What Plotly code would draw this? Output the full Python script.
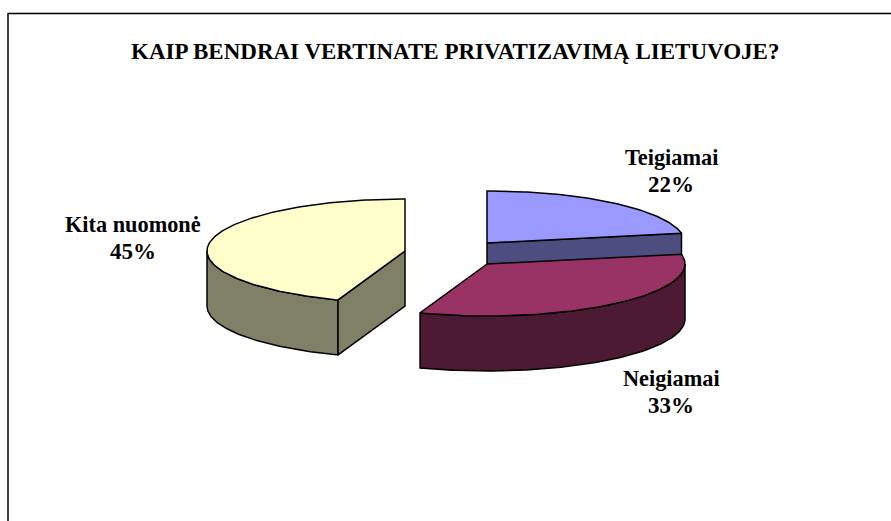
import numpy as np
import plotly.graph_objects as go

categories = ["Teigiamai", "Neigiamai", "Kita nuomonė"]
values = [22, 33.49, 44.51]
title_text = "KAIP BENDRAI VERTINATE PRIVATIZAVIMĄ LIETUVOJE?"
top_colors = ["#9999FF", "#993366", "#FFFFCC"]
side_colors = ["#4D4D80", "#4D1A33", "#808066"]

# Pie projection (pixels of the 891x521 canvas)
RX, RY, DEPTH = 198, 52, 55
CENTERS = [(487, 243), (487, 264), (405, 251)]
LABEL_POS = [(671, 157, 184), (671, 378, 405), (133, 224, 251)]
FONT = "Liberation Serif"

edges = np.cumsum([0] + values) / sum(values) * 2 * np.pi


def pt(c, th, drop=0):
    th = np.asarray(th)
    return c[0] + RX * np.sin(th), c[1] - RY * np.cos(th) + drop


def arc(a, b):
    n = max(2, int(abs(b - a) * 60))
    return np.linspace(a, b, n)


fig = go.Figure()


def poly(xs, ys, color):
    fig.add_trace(go.Scatter(
        x=list(xs) + [xs[0]], y=list(ys) + [ys[0]], mode="lines", fill="toself",
        fillcolor=color, line=dict(color="black", width=1.5),
        hoverinfo="skip", showlegend=False))


def outer_wall(i, a, b):
    c = CENTERS[i]
    th = arc(a, b)
    x1, y1 = pt(c, th)
    x2, y2 = pt(c, th[::-1], DEPTH)
    poly(np.r_[x1, x2], np.r_[y1, y2], side_colors[i])


def cut_face(i, th):
    c = CENTERS[i]
    x, y = pt(c, th)
    poly([c[0], float(x), float(x), c[0]],
         [c[1], float(y), float(y) + DEPTH, c[1] + DEPTH], side_colors[i])


def top(i):
    c = CENTERS[i]
    x, y = pt(c, arc(edges[i], edges[i + 1]))
    poly(np.r_[c[0], x], np.r_[c[1], y], top_colors[i])


# Painter's order: rear slices first
cut_face(0, edges[1])
top(0)
outer_wall(2, edges[2], 1.5 * np.pi)
cut_face(2, edges[2])
top(2)
outer_wall(1, 0.5 * np.pi, edges[2])
top(1)

annotations = [dict(x=455, y=51, text=f"<b>{title_text}</b>", showarrow=False,
                    xref="x", yref="y", font=dict(family=FONT, size=23, color="black"))]
for name, v, (lx, y1, y2) in zip(categories, values, LABEL_POS):
    annotations.append(dict(x=lx, y=y1, text=f"<b>{name}</b>", showarrow=False,
                            font=dict(family=FONT, size=22.3, color="black")))
    annotations.append(dict(x=lx, y=y2, text=f"<b>{round(v)}%</b>", showarrow=False,
                            font=dict(family=FONT, size=23, color="black")))

fig.update_layout(
    width=891, height=521, margin=dict(l=0, r=0, t=0, b=0, pad=0),
    autosize=False, paper_bgcolor="white", plot_bgcolor="white", showlegend=False,
    xaxis=dict(range=[0, 891], visible=False, fixedrange=True),
    yaxis=dict(range=[521, 0], visible=False, fixedrange=True),
    annotations=annotations,
    shapes=[
        dict(type="line", xref="x", yref="y", x0=8, y0=13.5, x1=891, y1=13.5,
             line=dict(color="black", width=1.5)),
        dict(type="line", xref="x", yref="y", x0=8, y0=13, x1=8, y1=521,
             line=dict(color="black", width=1.5)),
    ],
)
fig.write_html("out.html", config=dict(displayModeBar=False),
               post_script="document.body.style.margin='0';document.body.style.overflow='hidden';")
